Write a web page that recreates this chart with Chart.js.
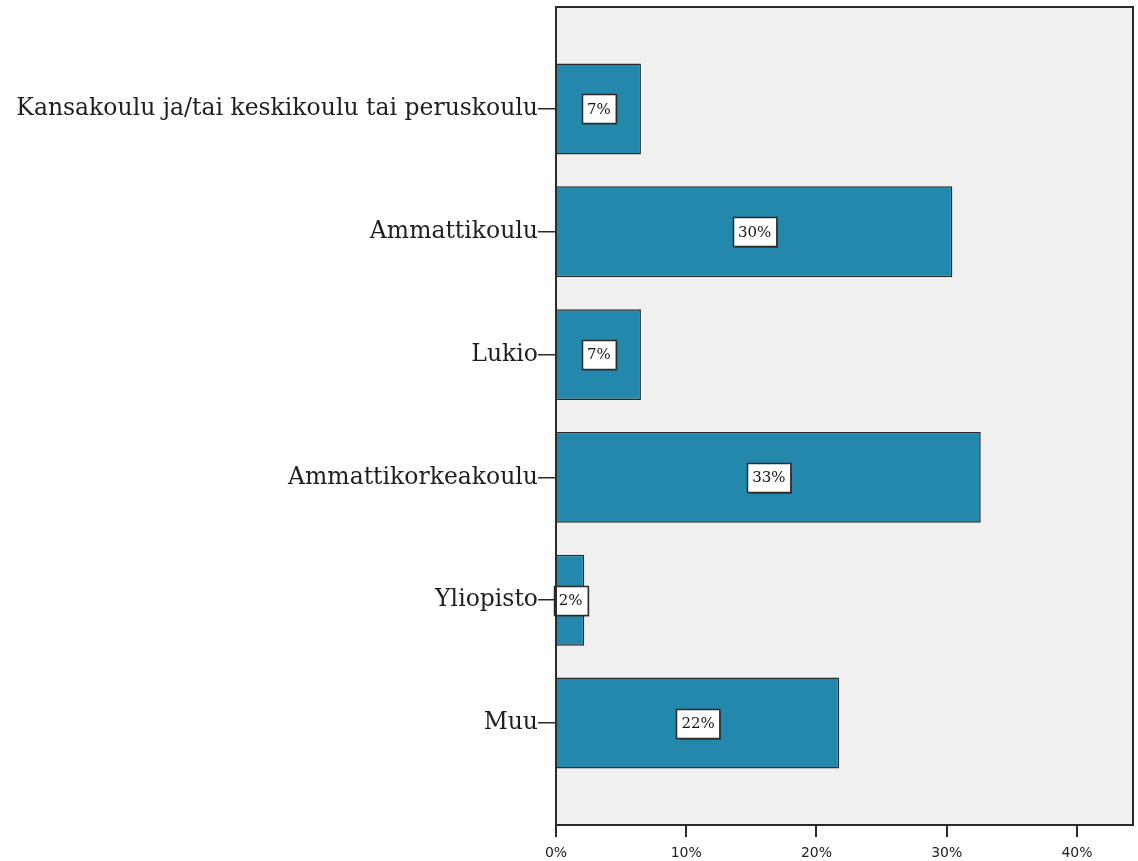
<!DOCTYPE html>
<html>
<head>
<meta charset="utf-8">
<style>
  html, body { margin: 0; padding: 0; background: #ffffff; }
  #wrap { width: 1138px; height: 861px; }
</style>
<script src="https://cdn.jsdelivr.net/npm/chart.js@4/dist/chart.umd.min.js"></script>
</head>
<body>
<div id="wrap"><canvas id="chart" width="1138" height="861"></canvas></div>
<script>
// Koulutustaso: share of respondents per category (%)
const categories = [
  'Kansakoulu ja/tai keskikoulu tai peruskoulu',
  'Ammattikoulu',
  'Lukio',
  'Ammattikorkeakoulu',
  'Yliopisto',
  'Muu'
];
const percentages = [6.52, 30.43, 6.52, 32.61, 2.17, 21.74];
const xTickValues = [0, 10, 20, 30, 40];

const barFill = '#2388ab';
const lineColor = '#2a2a2a';
const plotBg = '#f0f0f0';

// Plot frame and background
const framePlugin = {
  id: 'frame',
  beforeDraw(chart) {
    const { ctx, chartArea: a } = chart;
    ctx.save();
    ctx.fillStyle = plotBg;
    ctx.fillRect(a.left, a.top, a.right - a.left, a.bottom - a.top);
    ctx.restore();
  },
  afterDraw(chart) {
    const { ctx, chartArea: a } = chart;
    ctx.save();
    ctx.strokeStyle = lineColor;
    ctx.lineWidth = 2;
    ctx.strokeRect(a.left, a.top, a.right - a.left, a.bottom - a.top);
    ctx.restore();
  }
};

// Boxed percentage labels centred on each bar
const valueLabels = {
  id: 'valueLabels',
  afterDatasetsDraw(chart) {
    const { ctx } = chart;
    const meta = chart.getDatasetMeta(0);
    ctx.save();
    ctx.font = '15px "DejaVu Serif", serif';
    ctx.textAlign = 'center';
    ctx.textBaseline = 'middle';
    meta.data.forEach((bar, i) => {
      const text = Math.round(percentages[i]) + '%';
      const cx = (bar.x + bar.base) / 2;
      const cy = bar.y;
      const w = ctx.measureText(text).width + 10;
      const h = 29;
      const x0 = Math.round(cx - w / 2) + 0.5;
      const y0 = Math.round(cy - h / 2) + 0.5;
      ctx.shadowColor = 'rgba(0,0,0,0.35)';
      ctx.shadowOffsetX = 1;
      ctx.shadowOffsetY = 1;
      ctx.shadowBlur = 1;
      ctx.fillStyle = '#ffffff';
      ctx.fillRect(x0, y0, w, h);
      ctx.shadowColor = 'transparent';
      ctx.strokeStyle = lineColor;
      ctx.lineWidth = 1.5;
      ctx.strokeRect(x0, y0, w, h);
      ctx.fillStyle = '#151515';
      ctx.fillText(text, cx, cy + 1);
    });
    ctx.restore();
  }
};

new Chart(document.getElementById('chart'), {
  type: 'bar',
  data: {
    datasets: [{
      data: percentages.map((v, i) => ({ x: v, y: i })),
      backgroundColor: barFill,
      borderColor: lineColor,
      borderWidth: 1.5,
      barPercentage: 0.74,
      categoryPercentage: 1
    }]
  },
  options: {
    indexAxis: 'y',
    responsive: false,
    animation: false,
    layout: { padding: { top: 7, right: 5, left: 0, bottom: 0 } },
    plugins: { legend: { display: false }, tooltip: { enabled: false } },
    scales: {
      x: {
        type: 'linear',
        min: 0,
        max: 44.3,
        afterBuildTicks: s => { s.ticks = xTickValues.map(v => ({ value: v })); },
        afterFit: s => { s.height = 36; s.paddingRight = 0; },
        border: { display: false },
        grid: { drawOnChartArea: false, drawTicks: true, tickLength: 12, color: lineColor, lineWidth: 2 },
        ticks: {
          callback: v => v + '%',
          color: '#222',
          padding: 8,
          maxRotation: 0,
          font: { family: '"DejaVu Sans", sans-serif', size: 14 }
        }
      },
      y: {
        type: 'linear',
        reverse: true,
        offset: false,
        min: -0.83,
        max: 5.83,
        afterBuildTicks: s => { s.ticks = categories.map((_, i) => ({ value: i })); },
        afterFit: s => { s.width = 556; s.paddingTop = 0; s.paddingBottom = 0; },
        border: { display: false },
        grid: { offset: false, drawOnChartArea: false, drawTicks: true, tickLength: 18, color: lineColor, lineWidth: 1.5 },
        ticks: {
          callback: v => categories[v],
          color: '#1e1e1e',
          padding: 0,
          font: { family: '"DejaVu Serif", serif', size: 23.5 }
        }
      }
    }
  },
  plugins: [framePlugin, valueLabels]
});
</script>
</body>
</html>
